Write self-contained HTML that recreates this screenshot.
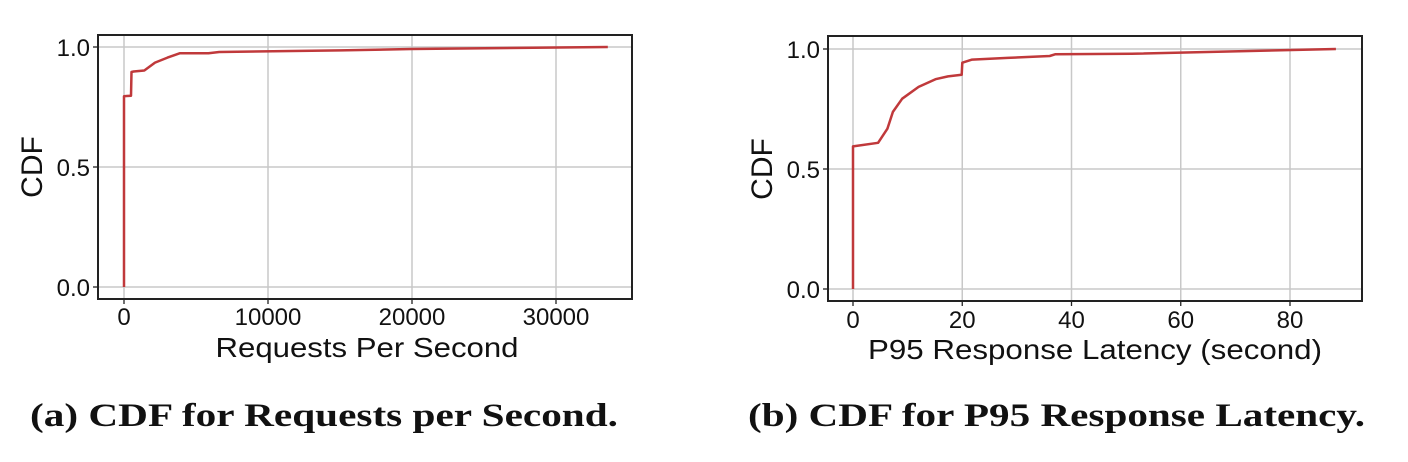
<!DOCTYPE html>
<html><head><meta charset="utf-8"><style>
html,body{margin:0;padding:0;background:#fff;}
svg{display:block;}
</style></head><body>
<svg width="1408" height="462" viewBox="0 0 1408 462" xmlns="http://www.w3.org/2000/svg" font-family="Liberation Sans, Arial, sans-serif">
<rect width="1408" height="462" fill="#fff"/>
<!-- LEFT -->
<g stroke="#c8c8c8" stroke-width="1.5">
<line x1="124" y1="35" x2="124" y2="299"/><line x1="268" y1="35" x2="268" y2="299"/>
<line x1="412" y1="35" x2="412" y2="299"/><line x1="556" y1="35" x2="556" y2="299"/>
<line x1="98" y1="47" x2="632" y2="47"/><line x1="98" y1="167" x2="632" y2="167"/><line x1="98" y1="287" x2="632" y2="287"/>
</g>
<g stroke="#222" stroke-width="1.3">
<line x1="124" y1="299" x2="124" y2="304"/><line x1="268" y1="299" x2="268" y2="304"/>
<line x1="412" y1="299" x2="412" y2="304"/><line x1="556" y1="299" x2="556" y2="304"/>
<line x1="93" y1="47" x2="98" y2="47"/><line x1="93" y1="167" x2="98" y2="167"/><line x1="93" y1="287" x2="98" y2="287"/>
</g>
<polyline fill="none" stroke="#c0393b" stroke-width="2.5" stroke-linejoin="round" points="124,287 124,96.2 131,95.7 131.5,72 133.6,71.5 144.3,70.5 155,62.6 167.5,57.6 180,53.2 208.5,53.2 219.2,52 340.3,50.4 412,49 607.8,47"/>
<rect x="98" y="35" width="534" height="264" fill="none" stroke="#222" stroke-width="2"/>
<g font-size="24" fill="#111" text-anchor="end">
<text x="90" y="56">1.0</text><text x="90" y="176">0.5</text><text x="90" y="296">0.0</text>
</g>
<g font-size="24" fill="#111" text-anchor="middle">
<text x="124" y="325">0</text><text x="268" y="325">10000</text><text x="412" y="325">20000</text><text x="556" y="325">30000</text>
</g>
<text x="367" y="357" font-size="28" text-anchor="middle" textLength="303" lengthAdjust="spacingAndGlyphs" fill="#111">Requests Per Second</text>
<text transform="translate(42,167) rotate(-90)" font-size="30" text-anchor="middle" fill="#111">CDF</text>
<!-- RIGHT -->
<g stroke="#c8c8c8" stroke-width="1.5">
<line x1="853" y1="36" x2="853" y2="301"/><line x1="962.25" y1="36" x2="962.25" y2="301"/>
<line x1="1071.5" y1="36" x2="1071.5" y2="301"/><line x1="1180.75" y1="36" x2="1180.75" y2="301"/><line x1="1290" y1="36" x2="1290" y2="301"/>
<line x1="828" y1="49" x2="1362" y2="49"/><line x1="828" y1="169" x2="1362" y2="169"/><line x1="828" y1="289" x2="1362" y2="289"/>
</g>
<g stroke="#222" stroke-width="1.3">
<line x1="853" y1="301" x2="853" y2="306"/><line x1="962.25" y1="301" x2="962.25" y2="306"/>
<line x1="1071.5" y1="301" x2="1071.5" y2="306"/><line x1="1180.75" y1="301" x2="1180.75" y2="306"/><line x1="1290" y1="301" x2="1290" y2="306"/>
<line x1="823" y1="49" x2="828" y2="49"/><line x1="823" y1="169" x2="828" y2="169"/><line x1="823" y1="289" x2="828" y2="289"/>
</g>
<polyline fill="none" stroke="#c0393b" stroke-width="2.5" stroke-linejoin="round" points="853,289 853,146.4 878.1,142.8 887.4,128.7 892.9,111.9 902.2,98.7 918.6,86.9 935.5,79.2 948,76.4 961.7,74.7 962.3,62.7 972.1,59.6 1007.6,57.9 1049.7,56 1055.1,54.3 1131.6,53.8 1335.9,49"/>
<rect x="828" y="36" width="534" height="265" fill="none" stroke="#222" stroke-width="2"/>
<g font-size="24" fill="#111" text-anchor="end">
<text x="820" y="58">1.0</text><text x="820" y="178">0.5</text><text x="820" y="298">0.0</text>
</g>
<g font-size="24" fill="#111" text-anchor="middle">
<text x="853" y="328">0</text><text x="962.25" y="328">20</text><text x="1071.5" y="328">40</text><text x="1180.75" y="328">60</text><text x="1290" y="328">80</text>
</g>
<text x="1095" y="359" font-size="28" text-anchor="middle" textLength="454" lengthAdjust="spacingAndGlyphs" fill="#111">P95 Response Latency (second)</text>
<text transform="translate(772,169) rotate(-90)" font-size="30" text-anchor="middle" fill="#111">CDF</text>
<!-- captions -->
<g font-family="Liberation Serif, serif" font-weight="bold" font-size="33" fill="#111">
<text x="30" y="426" textLength="588" lengthAdjust="spacingAndGlyphs">(a) CDF for Requests per Second.</text>
<text x="748" y="426" textLength="617" lengthAdjust="spacingAndGlyphs">(b) CDF for P95 Response Latency.</text>
</g>
</svg>
</body></html>
